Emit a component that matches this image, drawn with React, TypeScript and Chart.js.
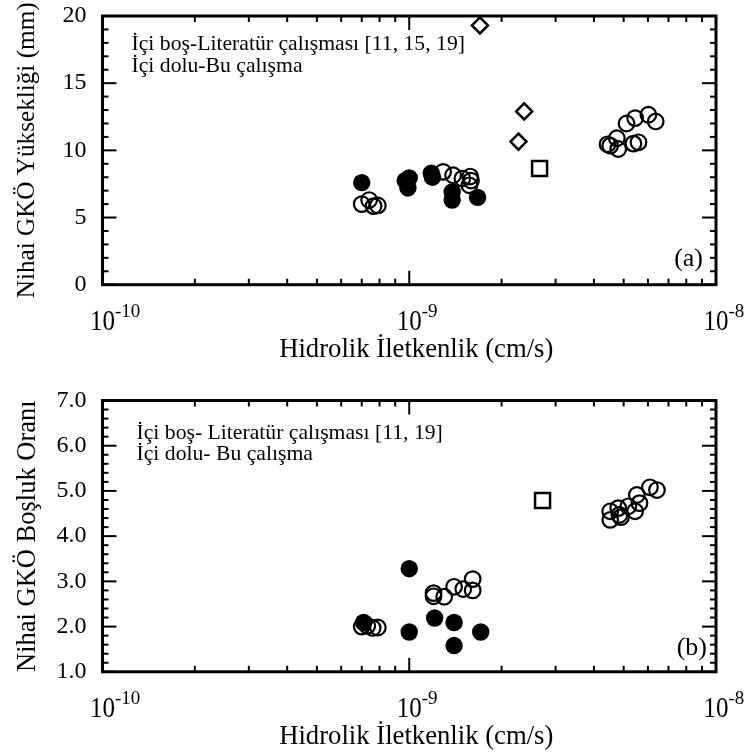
import { useEffect, useRef } from 'react';
import { Chart, registerables } from 'chart.js';

Chart.register(...registerables);

const FONT = '"Liberation Serif", "Times New Roman", Times, serif';
Chart.defaults.font.family = FONT;
Chart.defaults.color = '#000';

// ---------- shared x axis (hydraulic conductivity, cm/s) ----------
const xTickExponents = [-10, -9, -8];
const xTitle = 'Hidrolik İletkenlik (cm/s)';

// ---------- (a) final height (mm) ----------
const aYTitle = 'Nihai GKÖ Yüksekliği (mm)';
const aYTicks = [0, 5, 10, 15, 20];
const aLegendLines = ['İçi boş-Literatür çalışması [11, 15, 19]', 'İçi dolu-Bu çalışma'];
const aFilledK = [7.0e-10, 0.97e-9, 1.0e-9, 0.99e-9, 1.18e-9, 1.19e-9, 1.38e-9, 1.38e-9, 1.67e-9];
const aFilledH = [7.6, 7.75, 7.95, 7.2, 8.3, 8.0, 6.9, 6.3, 6.5];
const aOpenK = [
  7.0e-10, 7.4e-10, 7.65e-10, 7.9e-10,
  1.29e-9, 1.39e-9, 1.49e-9, 1.58e-9, 1.59e-9, 1.57e-9,
  4.43e-9, 4.52e-9, 4.75e-9, 4.8e-9, 5.38e-9, 5.59e-9, 5.11e-9, 5.45e-9, 6.02e-9, 6.36e-9,
];
const aOpenH = [
  6.0, 6.3, 5.85, 5.9,
  8.4, 8.15, 7.9, 8.05, 7.75, 7.4,
  10.45, 10.35, 10.9, 10.1, 10.5, 10.6, 12.0, 12.4, 12.65, 12.15,
];
const aDiamondK = [1.7e-9, 2.37e-9, 2.27e-9];
const aDiamondH = [19.3, 12.9, 10.65];
const aSquareK = [2.66e-9];
const aSquareH = [8.65];

// ---------- (b) final void ratio ----------
const bYTitle = 'Nihai GKÖ Boşluk Oranı';
const bYTicks = [1, 2, 3, 4, 5, 6, 7];
const bYTickLabels = ['1.0', '2.0', '3.0', '4.0', '5.0', '6.0', '7.0'];
const bLegendLines = ['İçi boş- Literatür çalışması [11, 19]', 'İçi dolu- Bu çalışma'];
const bFilledK = [1.0e-9, 1.0e-9, 7.1e-10, 1.21e-9, 1.4e-9, 1.4e-9, 1.71e-9];
const bFilledE = [3.28, 1.88, 2.09, 2.19, 2.09, 1.58, 1.88];
const bOpenK = [
  7.0e-10, 7.3e-10, 7.6e-10, 7.9e-10,
  1.2e-9, 1.2e-9, 1.3e-9, 1.4e-9, 1.5e-9, 1.61e-9, 1.61e-9,
  4.52e-9, 4.52e-9, 4.8e-9, 4.84e-9, 4.9e-9, 5.18e-9, 5.45e-9, 5.52e-9, 5.63e-9, 6.09e-9, 6.42e-9,
];
const bOpenE = [
  2.0, 2.02, 1.97, 1.98,
  2.74, 2.67, 2.66, 2.88, 2.83, 3.05, 2.8,
  4.55, 4.36, 4.62, 4.47, 4.42, 4.66, 4.55, 4.91, 4.73, 5.08, 5.02,
];
const bSquareK = [2.72e-9];
const bSquareE = [4.79];

const pts = (xs: number[], ys: number[]) => xs.map((x, i) => ({ x, y: ys[i] }));

const framePlugin = {
  id: 'frameTicks',
  afterDraw(chart: any, _args: any, opts: any) {
    const { ctx, chartArea } = chart;
    const { left, right, top, bottom } = chartArea;
    const xs = chart.scales.x;
    const ys = chart.scales.y;
    ctx.save();
    ctx.setLineDash([]);
    ctx.globalAlpha = 1;
    ctx.fillStyle = '#000';
    ctx.strokeStyle = '#000';
    const T = 2; // tick thickness
    const e0 = xTickExponents[0];
    const e1 = xTickExponents[xTickExponents.length - 1];
    for (let e = e0; e <= e1; e++) {
      for (let m = 1; m <= 9; m++) {
        if (e === e1 && m > 1) break;
        const px = xs.getPixelForValue(m * Math.pow(10, e));
        const len = m === 1 ? 14 : 6;
        ctx.fillRect(px - T / 2, bottom - len, T, len);
        ctx.fillRect(px - T / 2, top, T, len);
      }
    }
    const yMin = opts.yMin;
    const yMax = opts.yMax;
    const minor = opts.minor;
    const major = opts.major;
    const nMinor = Math.round((yMax - yMin) / minor);
    for (let i = 0; i <= nMinor; i++) {
      const v = yMin + i * minor;
      const isMajor = Math.abs(v / major - Math.round(v / major)) < 1e-6;
      const py = ys.getPixelForValue(v);
      const len = isMajor ? 14 : 6;
      ctx.fillRect(left, py - T / 2, len, T);
      ctx.fillRect(right - len, py - T / 2, len, T);
    }
    ctx.lineWidth = 3;
    ctx.strokeRect(left, top, right - left, bottom - top);

    // x tick labels 10^n
    ctx.textBaseline = 'alphabetic';
    for (const e of xTickExponents) {
      const px = xs.getPixelForValue(Math.pow(10, e));
      ctx.font = `25px ${FONT}`;
      const w = ctx.measureText('10').width;
      ctx.save();
      ctx.translate(px, bottom + 45);
      ctx.scale(1, 1.15);
      ctx.textAlign = 'center';
      ctx.fillText('10', 0, 0);
      ctx.restore();
      ctx.font = `19px ${FONT}`;
      ctx.textAlign = 'left';
      ctx.fillText(String(e), px + w / 2, bottom + 32);
    }

    // x axis title
    ctx.font = `26.7px ${FONT}`;
    ctx.textAlign = 'center';
    ctx.fillText(xTitle, (left + right) / 2 + 7, bottom + 72.3);

    // legend text
    ctx.font = `21.7px ${FONT}`;
    ctx.textAlign = 'left';
    const lines: string[] = opts.legend;
    for (let i = 0; i < lines.length; i++) {
      ctx.fillText(lines[i], left + opts.legendX, top + opts.legendY + i * opts.legendGap);
    }

    // panel label
    ctx.font = `26px ${FONT}`;
    ctx.textAlign = 'right';
    ctx.fillText(opts.panel, right - opts.panelDx, bottom - opts.panelDy);
    ctx.restore();
  },
};

type PanelCfg = {
  top: number;
  h: number;
  area: { left: number; right: number; top: number; bottom: number };
  datasets: any[];
  yMin: number;
  yMax: number;
  major: number;
  minor: number;
  yTitle: string;
  yTitleSize: number;
  yTickLabel: (v: number) => string;
  legend: string[];
  legendX: number;
  legendY: number;
  legendGap: number;
  panel: string;
  panelDx: number;
  panelDy: number;
};

const zeroPad = (s: any) => {
  s.paddingTop = 0;
  s.paddingBottom = 0;
  s.paddingLeft = 0;
  s.paddingRight = 0;
};

function Panel({ cfg }: { cfg: PanelCfg }) {
  const ref = useRef<HTMLCanvasElement>(null);
  useEffect(() => {
    const W = 747;
    const chart = new Chart(ref.current as HTMLCanvasElement, {
      type: 'scatter',
      data: { datasets: cfg.datasets },
      plugins: [framePlugin as any],
      options: {
        responsive: false,
        animation: false,
        devicePixelRatio: 1,
        events: [],
        layout: { padding: { left: 0, right: W - cfg.area.right, top: cfg.area.top, bottom: 0 } },
        plugins: {
          legend: { display: false },
          tooltip: { enabled: false },
          frameTicks: {
            yMin: cfg.yMin,
            yMax: cfg.yMax,
            major: cfg.major,
            minor: cfg.minor,
            legend: cfg.legend,
            legendX: cfg.legendX,
            legendY: cfg.legendY,
            legendGap: cfg.legendGap,
            panel: cfg.panel,
            panelDx: cfg.panelDx,
            panelDy: cfg.panelDy,
          },
        } as any,
        scales: {
          x: {
            type: 'logarithmic',
            position: 'bottom',
            min: Math.pow(10, xTickExponents[0]),
            max: Math.pow(10, xTickExponents[xTickExponents.length - 1]),
            grid: { display: false, drawTicks: false },
            border: { display: false },
            ticks: { display: false },
            title: { display: false },
            afterFit: (s: any) => {
              s.height = cfg.h - cfg.area.bottom;
              zeroPad(s);
            },
          },
          y: {
            type: 'linear',
            position: 'left',
            min: cfg.yMin,
            max: cfg.yMax,
            grid: { display: false, drawTicks: false },
            border: { display: false },
            ticks: {
              stepSize: cfg.major,
              padding: 16,
              color: '#000',
              font: { family: FONT, size: 24 },
              callback: (v: any) => cfg.yTickLabel(Number(v)),
            },
            title: {
              display: true,
              text: cfg.yTitle,
              color: '#000',
              font: { family: FONT, size: cfg.yTitleSize },
              padding: { top: 12, bottom: 0 },
            },
            afterFit: (s: any) => {
              s.width = cfg.area.left;
              zeroPad(s);
            },
          },
        },
      } as any,
    });
    return () => chart.destroy();
  }, [cfg]);
  return (
    <canvas
      ref={ref}
      width={747}
      height={cfg.h}
      style={{ position: 'absolute', left: 0, top: cfg.top }}
    />
  );
}

const filledStyle = {
  pointStyle: 'circle',
  pointRadius: 8.7,
  pointBackgroundColor: '#000',
  pointBorderColor: '#000',
  pointBorderWidth: 0,
  clip: false,
};
const openStyle = {
  pointStyle: 'circle',
  pointRadius: 7.8,
  pointBackgroundColor: 'rgba(0,0,0,0)',
  pointBorderColor: '#000',
  pointBorderWidth: 2.2,
  clip: false,
};
const diamondStyle = {
  pointStyle: 'rectRot',
  pointRadius: 8,
  pointBackgroundColor: 'rgba(0,0,0,0)',
  pointBorderColor: '#000',
  pointBorderWidth: 2.5,
  clip: false,
};
const squareStyle = {
  pointStyle: 'rect',
  pointRadius: 10.6,
  pointBackgroundColor: 'rgba(0,0,0,0)',
  pointBorderColor: '#000',
  pointBorderWidth: 2.5,
  clip: false,
};

const panelA: PanelCfg = {
  top: 0,
  h: 375,
  area: { left: 102.5, right: 716, top: 16, bottom: 284.7 },
  datasets: [
    { label: 'İçi dolu', data: pts(aFilledK, aFilledH), ...filledStyle },
    { label: 'İçi boş', data: pts(aOpenK, aOpenH), ...openStyle },
    { label: 'Literatür (◇)', data: pts(aDiamondK, aDiamondH), ...diamondStyle },
    { label: 'Literatür (□)', data: pts(aSquareK, aSquareH), ...squareStyle },
  ],
  yMin: aYTicks[0],
  yMax: aYTicks[aYTicks.length - 1],
  major: aYTicks[1] - aYTicks[0],
  minor: 1,
  yTitle: aYTitle,
  yTitleSize: 25.2,
  yTickLabel: (v) => String(v),
  legend: aLegendLines,
  legendX: 29,
  legendY: 34,
  legendGap: 22,
  panel: '(a)',
  panelDx: 13,
  panelDy: 19,
};

const panelB: PanelCfg = {
  top: 375,
  h: 380,
  area: { left: 102.5, right: 716, top: 25.5, bottom: 296.8 },
  datasets: [
    { label: 'İçi dolu', data: pts(bFilledK, bFilledE), ...filledStyle },
    { label: 'İçi boş', data: pts(bOpenK, bOpenE), ...openStyle },
    { label: 'Literatür (□)', data: pts(bSquareK, bSquareE), ...squareStyle },
  ],
  yMin: bYTicks[0],
  yMax: bYTicks[bYTicks.length - 1],
  major: bYTicks[1] - bYTicks[0],
  minor: 0.2,
  yTitle: bYTitle,
  yTitleSize: 26.5,
  yTickLabel: (v) => {
    const i = bYTicks.indexOf(Math.round(v));
    return i >= 0 ? bYTickLabels[i] : '';
  },
  legend: bLegendLines,
  legendX: 34,
  legendY: 38.5,
  legendGap: 21,
  panel: '(b)',
  panelDx: 9,
  panelDy: 17,
};

export default function App() {
  return (
    <div
      style={{
        position: 'absolute',
        left: 0,
        top: 0,
        width: 747,
        height: 755,
        background: '#fff',
        overflow: 'hidden',
      }}
    >
      <Panel cfg={panelA} />
      <Panel cfg={panelB} />
    </div>
  );
}
